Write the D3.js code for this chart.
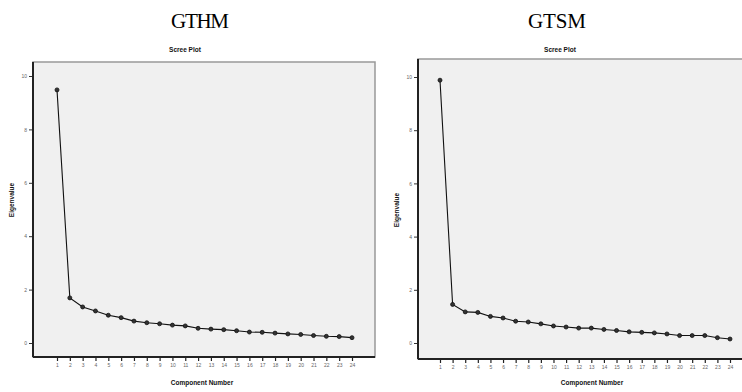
<!DOCTYPE html>
<html>
<head>
<meta charset="utf-8">
<script src="https://cdn.jsdelivr.net/npm/d3@7"></script>
<style>
  body { margin: 0; background: #fff; }
  svg { display: block; }
</style>
</head>
<body>
<svg id="chart" width="742" height="392"></svg>
<script>
// eigenvalues
const components = d3.range(1, 25);
const gthmValues = [9.48, 1.69, 1.35, 1.20, 1.04, 0.95, 0.82, 0.76, 0.72, 0.67, 0.64, 0.55,
  0.52, 0.50, 0.46, 0.41, 0.40, 0.37, 0.34, 0.32, 0.28, 0.25, 0.24, 0.20];
const gtsmValues = [9.88, 1.45, 1.17, 1.15, 1.00, 0.94, 0.82, 0.79, 0.72, 0.64, 0.60, 0.56,
  0.56, 0.51, 0.47, 0.42, 0.40, 0.38, 0.34, 0.28, 0.28, 0.28, 0.20, 0.15];
const yTicks = [0, 2, 4, 6, 8, 10];
const panelNames = ['GTHM', 'GTSM'];

const svg = d3.select('#chart');

const panels = [
  { name: panelNames[0], values: gthmValues, cx: 200,
    frame: { x0: 33, x1: 375, y0: 62, y1: 357 },
    x: [57, 352], y: [343, 76], titleX: 185, axisX: 202, eigX: 12, eigY: 200 },
  { name: panelNames[1], values: gtsmValues, cx: 557,
    frame: { x0: 418, x1: 745, y0: 59, y1: 359 },
    x: [440, 730], y: [343, 77], titleX: 560, axisX: 592, eigX: 397, eigY: 210 }
];

panels.forEach(p => {
  const g = svg.append('g');
  const f = p.frame;

  const x = d3.scaleLinear().domain([1, 24]).range(p.x);
  const y = d3.scaleLinear().domain([0, 10]).range(p.y);

  // heading above each panel
  g.append('text')
    .attr('x', p.cx).attr('y', 28)
    .attr('text-anchor', 'middle')
    .attr('font-family', 'Liberation Serif, Times New Roman, serif')
    .attr('font-size', 21)
    .attr('textLength', 58)
    .text(p.name);

  g.append('text')
    .attr('x', p.titleX).attr('y', 52)
    .attr('text-anchor', 'middle')
    .attr('font-family', 'Liberation Sans, Arial, sans-serif')
    .attr('font-weight', 'bold')
    .attr('font-size', 6.5)
    .attr('fill', '#111')
    .text('Scree Plot');

  // plot background + frame
  g.append('rect')
    .attr('x', f.x0).attr('y', f.y0)
    .attr('width', f.x1 - f.x0).attr('height', f.y1 - f.y0)
    .attr('fill', '#f0f0f0')
    .attr('stroke', '#999')
    .attr('stroke-width', 1.5);

  // y axis
  const yAxis = g.append('g')
    .attr('transform', `translate(${f.x0},0)`)
    .call(d3.axisLeft(y).tickValues(yTicks).tickSize(4).tickPadding(2));
  yAxis.select('.domain').remove();
  yAxis.selectAll('line').attr('stroke', '#333');
  yAxis.selectAll('text').attr('font-size', 5).attr('fill', '#666')
    .attr('font-family', 'Liberation Sans, Arial, sans-serif');

  // x axis
  const xAxis = g.append('g')
    .attr('transform', `translate(0,${f.y1})`)
    .call(d3.axisBottom(x).tickValues(components).tickFormat(d3.format('d')).tickSize(4).tickPadding(2));
  xAxis.select('.domain').remove();
  xAxis.selectAll('line').attr('stroke', '#222').attr('stroke-width', 1.2);
  xAxis.selectAll('text').attr('font-size', 5).attr('fill', '#666')
    .attr('font-family', 'Liberation Sans, Arial, sans-serif');

  // dark left/bottom axis lines
  g.append('line')
    .attr('x1', f.x0).attr('x2', f.x0).attr('y1', f.y0).attr('y2', f.y1)
    .attr('stroke', '#222').attr('stroke-width', 2);
  g.append('line')
    .attr('x1', f.x0).attr('x2', f.x1).attr('y1', f.y1).attr('y2', f.y1)
    .attr('stroke', '#222').attr('stroke-width', 2);

  // axis titles
  g.append('text')
    .attr('x', p.axisX).attr('y', 385)
    .attr('text-anchor', 'middle')
    .attr('font-family', 'Liberation Sans, Arial, sans-serif')
    .attr('font-weight', 'bold')
    .attr('font-size', 6.5)
    .attr('fill', '#111')
    .text('Component Number');

  g.append('text')
    .attr('transform', `translate(${p.eigX},${p.eigY}) rotate(-90)`)
    .attr('text-anchor', 'middle')
    .attr('dy', '0.35em')
    .attr('font-family', 'Liberation Sans, Arial, sans-serif')
    .attr('font-weight', 'bold')
    .attr('font-size', 6.5)
    .attr('fill', '#111')
    .text('Eigenvalue');

  // scree line and markers
  const pts = components.map((c, i) => [c, p.values[i]]);
  g.append('path')
    .datum(pts)
    .attr('fill', 'none')
    .attr('stroke', '#111')
    .attr('stroke-width', 1.1)
    .attr('d', d3.line().x(d => x(d[0])).y(d => y(d[1])));

  g.selectAll('circle.pt')
    .data(pts)
    .enter()
    .append('circle')
    .attr('class', 'pt')
    .attr('cx', d => x(d[0]))
    .attr('cy', d => y(d[1]))
    .attr('r', 2)
    .attr('fill', '#333')
    .attr('stroke', '#111')
    .attr('stroke-width', 0.8);
});
</script>
</body>
</html>
